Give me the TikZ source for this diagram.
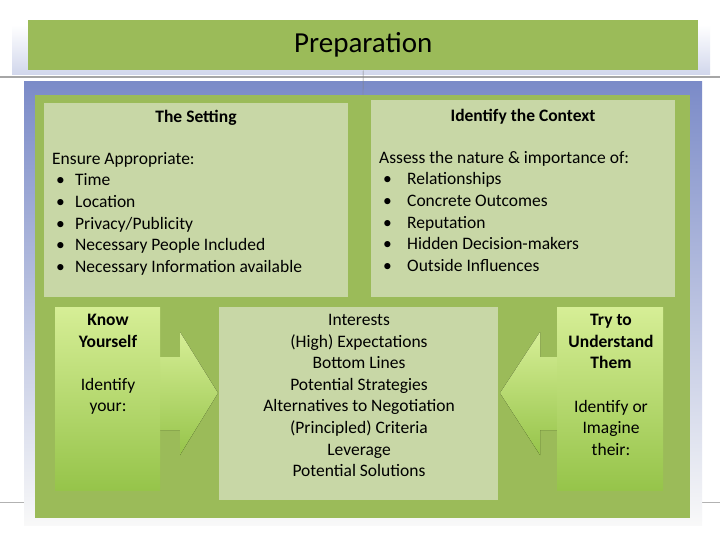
\documentclass[tikz,border=0pt]{standalone}
\usepackage{fontspec}
\setmainfont{Carlito}
\definecolor{olv}{RGB}{155,187,89}
\definecolor{palebox}{RGB}{200,215,166}
\definecolor{frameblue}{RGB}{123,139,200}
\definecolor{sidetop}{RGB}{214,238,150}
\definecolor{sidebot}{RGB}{150,196,74}
\newcommand{\bul}[1]{\makebox[#1][l]{\hspace{4pt}\textbullet}}
\begin{document}
\begin{tikzpicture}[x=1pt,y=-1pt,
  txt/.style={font=\fontsize{17.5}{21.6}\selectfont, align=center},
  lt/.style={font=\fontsize{17.5}{21.6}\selectfont, align=left, anchor=north west},
  side/.style={top color=sidetop, bottom color=sidebot, draw=none}]
\useasboundingbox (0,0) rectangle (720,540);
\fill[white] (0,0) rectangle (720,540);
% title
\fill[top color=white, bottom color=frameblue!35] (12,25) rectangle (710,75);
\node[fill=olv, minimum width=670, minimum height=50, anchor=north west, inner sep=0,
  font=\fontsize{29}{32}\selectfont] (title) at (28,20) {Preparation};
\draw[gray!70, line width=1.2] (0,77) -- (720,77);
\draw[gray!60] (0,502) -- (720,502);
% frame
\fill[top color=frameblue, bottom color=gray!5] (24,82) rectangle (702,525);
\fill[olv] (35,95) rectangle (690,518);
\draw[gray] (title.south) -- (363,95);
% top boxes
\fill[palebox] (44,103) rectangle (348,297);
\fill[palebox] (371,100) rectangle (675,297);
\node[txt, font=\bfseries\fontsize{17.5}{20}\selectfont] (set) at (196,118) {The Setting};
\node[txt, font=\bfseries\fontsize{17.5}{20}\selectfont] (ctx) at (523,117) {Identify the Context};
\node[lt, inner sep=0] (setl) at (52,152) {Ensure Appropriate:\\
\bul{23pt}Time\\
\bul{23pt}Location\\
\bul{23pt}Privacy/Publicity\\
\bul{23pt}Necessary People Included\\
\bul{23pt}Necessary Information available};
\node[lt, inner sep=0] (ctxl) at (379,151) {Assess the nature \& importance of:\\
\bul{28pt}Relationships\\
\bul{28pt}Concrete Outcomes\\
\bul{28pt}Reputation\\
\bul{28pt}Hidden Decision-makers\\
\bul{28pt}Outside Influences};
% arrows
\fill[side] (150,357) -- (180,357) -- (180,332) -- (218,393) -- (180,455) -- (180,430) -- (150,430) -- cycle;
\fill[side] (570,357) -- (540,357) -- (540,332) -- (500,393) -- (540,455) -- (540,430) -- (570,430) -- cycle;
% side boxes
\fill[side] (55,307) rectangle (160,490);
\fill[side] (557,307) rectangle (663,490);
\node[txt, anchor=north, inner sep=0, font=\bfseries\fontsize{17.5}{21.6}\selectfont] (ky) at (108,314) {Know\\Yourself};
\node[txt, anchor=north, inner sep=0] (iy) at (108,378) {Identify\\your:};
\node[txt, anchor=north, inner sep=0, font=\bfseries\fontsize{17.5}{21.6}\selectfont] (tu) at (611,314) {Try to\\Understand\\Them};
\node[txt, anchor=north, inner sep=0] (it) at (611,400) {Identify or\\Imagine\\their:};
% center
\fill[palebox] (219,307) rectangle (498,500);
\node[txt, anchor=north, inner sep=0] (c) at (359,314) {Interests\\(High) Expectations\\Bottom Lines\\Potential Strategies\\Alternatives to Negotiation\\(Principled) Criteria\\Leverage\\Potential Solutions};
\end{tikzpicture}
\end{document}
